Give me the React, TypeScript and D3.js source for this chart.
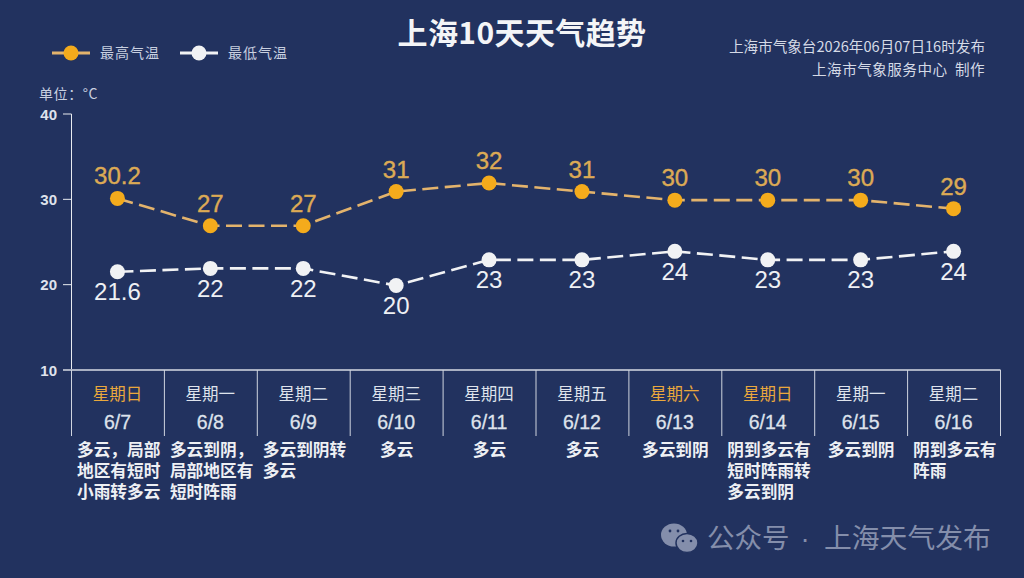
import React from "react";
import * as d3 from "d3";

const dates = ["6/7","6/8","6/9","6/10","6/11","6/12","6/13","6/14","6/15","6/16"];
const weekdays = ["星期日","星期一","星期二","星期三","星期四","星期五","星期六","星期日","星期一","星期二"];
const weekend = [true,false,false,false,false,false,true,true,false,false];
const highs = [30.2,27,27,31,32,31,30,30,30,29];
const lows = [21.6,22,22,20,23,23,24,23,23,24];
const yTicks = [40,30,20,10];
const weather = [
  ["多云，局部","地区有短时","小雨转多云"],
  ["多云到阴，","局部地区有","短时阵雨"],
  ["多云到阴转","多云"],
  ["多云"],
  ["多云"],
  ["多云"],
  ["多云到阴"],
  ["阴到多云有","短时阵雨转","多云到阴"],
  ["多云到阴"],
  ["阴到多云有","阵雨"],
];

const BG = "#22325f";
const ORANGE = "#f4ab1c";
const ORANGE_LINE = "#e3b36c";
const ORANGE_TXT = "#dcaa55";
const WHITE = "#f1f2f4";
const TXT = "#dfe3ec";
const WM = "#848eab";
const CJK = "'Noto Sans CJK SC', sans-serif";
const LAT = "'Liberation Sans', Arial, sans-serif";

export default function App() {
  const x0 = 71.5, x1 = 1000.5;
  const band = d3.scaleBand<string>().domain(dates).range([x0, x1]);
  const y = d3.scaleLinear().domain([10, 40]).range([370, 114]);
  const ym = d3.scaleLinear().domain([10, 40]).range([370.8, 114.8]);
  const cx = (i: number) => band(dates[i])! + band.bandwidth() / 2 - 0.5;
  const line = d3.line<number>().x((_, i) => cx(i)).y((d) => ym(d));
  const edges = [...dates.map((d) => band(d)!), x1];
  return (
    <svg width={1024} height={578} viewBox="0 0 1024 578"
      style={{ position: "absolute", left: 0, top: 0, display: "block" }}>
      <rect width={1024} height={578} fill={BG} />
      <text x={522} y={43.5} textAnchor="middle" fontFamily={CJK} fontWeight={700} fontSize={30} letterSpacing={0.4} fill="#f4f5f7">上海10天天气趋势</text>

      {/* legend */}
      <line x1={52} x2={90} y1={53} y2={53} stroke={ORANGE_LINE} strokeWidth={3} />
      <circle cx={71} cy={53} r={7.5} fill={ORANGE} />
      <text x={100} y={57.5} fontFamily={CJK} fontSize={14} letterSpacing={1} fill="#c9d0e0">最高气温</text>
      <line x1={180} x2={218} y1={53} y2={53} stroke={WHITE} strokeWidth={3} />
      <circle cx={199} cy={53} r={7.5} fill={WHITE} />
      <text x={228} y={57.5} fontFamily={CJK} fontSize={14} letterSpacing={1} fill="#c9d0e0">最低气温</text>

      {/* source */}
      <text x={985} y={52} textAnchor="end" fontFamily={CJK} fontSize={14.6} fill="#d5dae6">上海市气象台2026年06月07日16时发布</text>
      <text x={985} y={74.5} textAnchor="end" fontFamily={CJK} fontSize={14.6} letterSpacing={0.45} style={{ whiteSpace: "pre" }} fill="#d5dae6">上海市气象服务中心  制作</text>

      <text x={39} y={99} fontFamily={CJK} fontSize={14} letterSpacing={0.6} fill="#c9d0e0">单位：°C</text>

      {/* y axis */}
      <line x1={71.5} x2={71.5} y1={y(40)} y2={y(10)} stroke="#e8ebf0" strokeWidth={1} />
      {yTicks.map((t) => (
        <g key={t}>
          <line x1={63} x2={71.5} y1={y(t)} y2={y(t)} stroke="#e8ebf0" strokeWidth={1} />
          <text x={57} y={y(t) + 5.5} textAnchor="end" fontFamily={LAT} fontWeight={700} fontSize={15} fill="#dfe3ec">{t}</text>
        </g>
      ))}

      {/* x axis */}
      <line x1={63} x2={x1} y1={370} y2={370} stroke="#a9b0c2" strokeWidth={2} />
      {edges.map((e, i) => (
        <line key={i} x1={e} x2={e} y1={370} y2={436} stroke="#cfd4df" strokeWidth={1} />
      ))}
      {dates.map((d, i) => {
        const single = weather[i].length === 1;
        const tx = single ? cx(i) + 0.5 : band(d)! + 5.5;
        return (
          <g key={d}>
            <text x={cx(i)} y={399.5} textAnchor="middle" fontFamily={CJK} fontSize={16.5} fill={weekend[i] ? "#eaa83c" : TXT}>{weekdays[i]}</text>
            <text x={cx(i)} y={428.5} textAnchor="middle" fontFamily={LAT} fontSize={19.5} stroke={TXT} strokeWidth={0.3} fill={TXT}>{d}</text>
            <text y={456} textAnchor={single ? "middle" : "start"} fontFamily={CJK} fontWeight={700} fontSize={16.7} fill="#eef0f4">
              {weather[i].map((ln, k) => (
                <tspan key={k} x={tx} dy={k === 0 ? 0 : 21}>{ln}</tspan>
              ))}
            </text>
          </g>
        );
      })}

      {/* series */}
      <path d={line(highs)!} fill="none" stroke={ORANGE_LINE} strokeWidth={2.6} strokeDasharray="16 6.5" />
      <path d={line(lows)!} fill="none" stroke={WHITE} strokeWidth={2.6} strokeDasharray="16 6.5" />
      {highs.map((v, i) => (
        <g key={i}>
          <circle cx={cx(i)} cy={ym(v)} r={7.5} fill={ORANGE} />
          <text x={cx(i)} y={ym(v) - 14} textAnchor="middle" fontFamily={LAT} fontSize={24} stroke={ORANGE_TXT} strokeWidth={0.4} fill={ORANGE_TXT}>{v}</text>
        </g>
      ))}
      {lows.map((v, i) => (
        <g key={i}>
          <circle cx={cx(i)} cy={ym(v)} r={7.5} fill={WHITE} />
          <text x={cx(i)} y={ym(v) + 28.5} textAnchor="middle" fontFamily={LAT} fontSize={24} fill="#eef0f4">{v}</text>
        </g>
      ))}

      {/* watermark */}
      <g fill={WM}>
        <ellipse cx={674} cy={535} rx={13} ry={11.5} />
        <ellipse cx={687} cy={543} rx={11} ry={9.5} stroke={BG} strokeWidth={1.5} />
      </g>
      <g fill={BG}>
        <circle cx={670} cy={531} r={1.4} />
        <circle cx={678} cy={531} r={1.4} />
        <circle cx={683} cy={541} r={1.3} />
        <circle cx={691} cy={541} r={1.3} />
      </g>
      <text x={707} y={548} fontFamily={CJK} fontSize={27.5} fill={WM}>公众号</text>
      <text x={805} y={548} textAnchor="middle" fontFamily={LAT} fontSize={27.5} fill={WM}>·</text>
      <text x={824} y={548} fontFamily={CJK} fontSize={27.8} fill={WM}>上海天气发布</text>
    </svg>
  );
}
